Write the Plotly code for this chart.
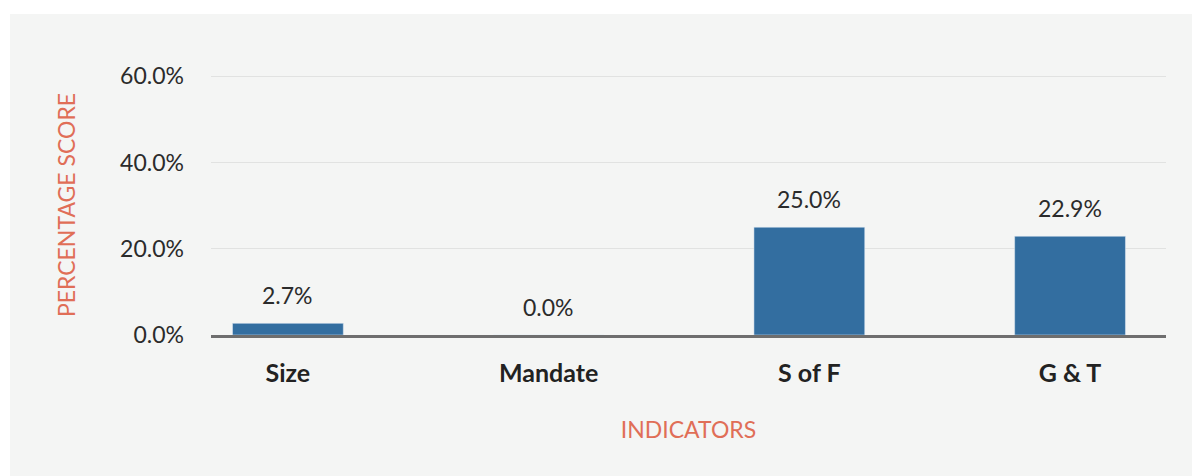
import plotly.graph_objects as go

categories = ["Size", "Mandate", "S of F", "G & T"]
scores = [2.7, 0.0, 25.0, 22.9]
y_ticks = [0, 20, 40, 60]
y_tick_labels = ["0.0%", "20.0%", "40.0%", "60.0%"]

BAR = "#336ea0"
BG = "#f4f5f4"
TXT = "#2b2b2b"
ACC = "#e06e57"
FONT = "Lato"

# page body has an 8px margin, so the figure is 8px smaller than the window
W, H = 1192, 468
L, R, T, B = 203, 34, 67, 141
pw, ph = W - L - R, H - T - B

fig = go.Figure()
fig.add_trace(go.Bar(
    x=list(range(len(categories))), y=scores, marker_color=BAR, width=0.425,
    hoverinfo="skip", showlegend=False,
))
for i, v in enumerate(scores):
    fig.add_annotation(x=i, y=v, text=f"{v:.1f}%", showarrow=False,
                       yanchor="middle", yshift=28,
                       font=dict(family=FONT, size=23, color=TXT))

fig.add_shape(type="rect", xref="paper", yref="paper", layer="below",
              x0=(2 - L) / pw, x1=(W - L) / pw + 0.01,
              y0=-(H - T - ph) / ph - 0.01, y1=(T + ph - 6) / ph,
              fillcolor=BG, line_width=0)

fig.update_layout(
    width=W, height=H,
    margin=dict(l=L, r=R, t=T, b=B, autoexpand=False),
    paper_bgcolor="white", plot_bgcolor=BG,
    font=dict(family=FONT, color=TXT),
    xaxis=dict(
        range=[-0.295, 3.368], tickmode="array",
        tickvals=list(range(len(categories))),
        ticktext=[f"<b>{c}</b>" for c in categories],
        tickfont=dict(family=FONT, size=25, color="#222222"),
        showgrid=False, showline=True, linecolor="#6e6e6e", linewidth=3,
        ticks="", ticklabelstandoff=14, zeroline=False,
        title=dict(text="INDICATORS", standoff=36,
                   font=dict(family=FONT, size=23, color=ACC)),
    ),
    yaxis=dict(
        range=[0, 60.3], tickmode="array", tickvals=y_ticks, ticktext=y_tick_labels,
        tickfont=dict(family=FONT, size=23, color=TXT),
        showgrid=True, gridcolor="#e1e2e1", gridwidth=1, zeroline=False,
        ticks="", ticklabelstandoff=26, showline=False,
        title=dict(text="PERCENTAGE SCORE", standoff=38,
                   font=dict(family=FONT, size=23, color=ACC)),
    ),
)

fig.write_html("out.html")
